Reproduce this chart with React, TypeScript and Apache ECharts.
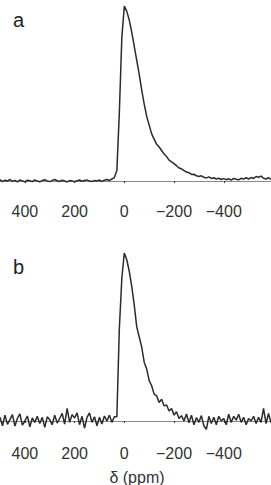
import React, { useEffect, useRef } from "react";
import * as echarts from "echarts";

const ppm = [
  500, 490, 480, 470, 460, 450, 440, 430, 420, 410,
  400, 390, 380, 370, 360, 350, 340, 330, 320, 310,
  300, 290, 280, 270, 260, 250, 240, 230, 220, 210,
  200, 190, 180, 170, 160, 150, 140, 130, 120, 110,
  100, 90, 80, 70, 60, 50, 40, 30, 20, 10,
  0, -10, -20, -30, -40, -50, -60, -70, -80, -90,
  -100, -110, -120, -130, -140, -150, -160, -170, -180, -190,
  -200, -210, -220, -230, -240, -250, -260, -270, -280, -290,
  -300, -310, -320, -330, -340, -350, -360, -370, -380, -390,
  -400, -410, -420, -430, -440, -450, -460, -470, -480, -490,
  -500, -510, -520, -530, -540, -550, -560, -570, -580, -590,
];

const spectrumA = [
  0.8, -0.3, 0.5, 0.0, 0.9, -0.2, 0.4, -0.5, 0.6, 0.1,
  -0.4, 0.5, 0.2, -0.3, 0.7, 0.0, -0.4, 0.3, 0.8, 0.1,
  -0.3, 0.4, 0.9, 0.2, -0.2, 0.5, 0.0, -0.5, 0.3, 0.1,
  -0.4, 0.2, 0.6, -0.1, 0.3, 0.7, 0.0, -0.3, 0.4, 0.1,
  0.6, -0.2, 0.5, 0.9, 0.3, 1.2, 2.0, 6.0, 39, 82,
  100, 97, 92, 85, 77, 69, 61, 52, 44, 37,
  32, 27, 24, 21, 19.5, 17.5, 15.5, 14, 12, 11,
  10, 8.8, 7.5, 7, 6, 5.2, 4.8, 3.8, 3.9, 3.0,
  2.6, 3.0, 2.2, 1.8, 2.4, 1.5, 1.9, 1.2, 1.6, 0.9,
  1.4, 0.8, 1.3, 0.6, 1.5, 1.0, 0.7, 1.6, 1.1, 1.9,
  1.2, 2.0, 1.5, 2.6, 2.2, 2.8, 1.6, 1.2, 1.9, 1.0,
];

const spectrumB = [
  2.2, -2.8, 3.5, -2.0, 0.8, 3.8, -3.0, 1.5, 4.2, -2.5,
  0.0, 3.0, -3.5, 1.8, -0.8, 2.8, -1.5, 2.2, -3.8, 2.5,
  0.8, -2.2, 3.5, -1.2, 1.5, 4.5, -1.8, 7.5, -0.8, 3.8,
  1.8, 4.8, -2.2, 2.8, -4.2, 2.2, 4.8, -0.8, 2.5, -2.8,
  2.2, -1.8, 3.0, 0.0, 3.5, -0.8, 2.5, 2.5, 55, 85,
  100, 96, 89, 80, 69, 56, 50, 44, 35, 31,
  24, 21, 16, 15, 11, 13, 9, 9.5, 6, 7.5,
  3.5, 5.5, 1.5, 3.2, 0.0, 4.2, -1.0, 3.5, -2.2, 2.0,
  -0.8, 3.2, -2.8, -5.0, 2.8, -1.5, 2.2, -2.2, 2.8, 0.0,
  1.5, -2.2, 4.0, -0.8, 2.8, 0.5, 4.0, -0.8, 2.2, -2.2,
  1.5, 0.0, 2.8, -1.5, 2.2, -0.8, 7.5, -1.5, 4.5, -1.0,
];

const tickValues = [400, 200, 0, -200, -400];
const panelLabels = ["a", "b"];
const axisTitle = "δ (ppm)";

const FONT = "'Liberation Sans', Arial, Helvetica, sans-serif";

function xAxisCfg(gridIndex: number) {
  return {
    type: "value",
    gridIndex,
    inverse: true,
    min: -590,
    max: 500,
    splitLine: { show: false },
    axisLine: { show: true, lineStyle: { color: "#8a8a8a", width: 1.2 } },
    axisTick: {
      show: true,
      inside: false,
      length: 2,
      customValues: tickValues,
      lineStyle: { color: "#333", width: 1 },
    },
    axisLabel: {
      show: true,
      customValues: tickValues,
      margin: 6,
      color: "#333",
      fontSize: 16,
      fontFamily: FONT,
      formatter: (v: number) => (v < 0 ? "\u2212" + Math.abs(v) : String(v)),
    },
  };
}

export default function App() {
  const ref = useRef<HTMLDivElement>(null);
  useEffect(() => {
    document.body.style.margin = "0";
    if (!ref.current) return;
    const chart = echarts.init(ref.current, undefined, { renderer: "svg" });
    const dataA = ppm.map((p, i) => [p, spectrumA[i]]);
    const dataB = ppm.map((p, i) => [p, spectrumB[i]]);
    chart.setOption({
      animation: false,
      backgroundColor: "#fff",
      grid: [
        { left: 0, right: 0, top: 0, height: 197 },
        { left: 0, right: 0, top: 242, height: 197 },
      ],
      xAxis: [xAxisCfg(0), xAxisCfg(1)],
      yAxis: [
        { type: "value", gridIndex: 0, min: -9.1, max: 103.5, show: false },
        { type: "value", gridIndex: 1, min: -10.71, max: 106.55, show: false },
      ],
      series: [
        {
          type: "line",
          xAxisIndex: 0,
          yAxisIndex: 0,
          data: dataA,
          showSymbol: false,
          symbol: "none",
          lineStyle: { color: "#2b2b2b", width: 1.5 },
        },
        {
          type: "line",
          xAxisIndex: 1,
          yAxisIndex: 1,
          data: dataB,
          showSymbol: false,
          symbol: "none",
          lineStyle: { color: "#2b2b2b", width: 1.5 },
        },
      ],
      graphic: [
        {
          type: "text",
          left: 13,
          top: 10,
          style: { text: panelLabels[0], fontSize: 20, fontFamily: FONT, fill: "#222" },
        },
        {
          type: "text",
          left: 13,
          top: 257,
          style: { text: panelLabels[1], fontSize: 20, fontFamily: FONT, fill: "#222" },
        },
        {
          type: "text",
          x: 137,
          y: 477,
          style: {
            text: axisTitle,
            fontSize: 16,
            fontFamily: FONT,
            fill: "#333",
            textAlign: "center",
            textVerticalAlign: "middle",
          },
        },
      ],
    });
    return () => chart.dispose();
  }, []);
  return <div ref={ref} style={{ width: 271, height: 485 }} />;
}
